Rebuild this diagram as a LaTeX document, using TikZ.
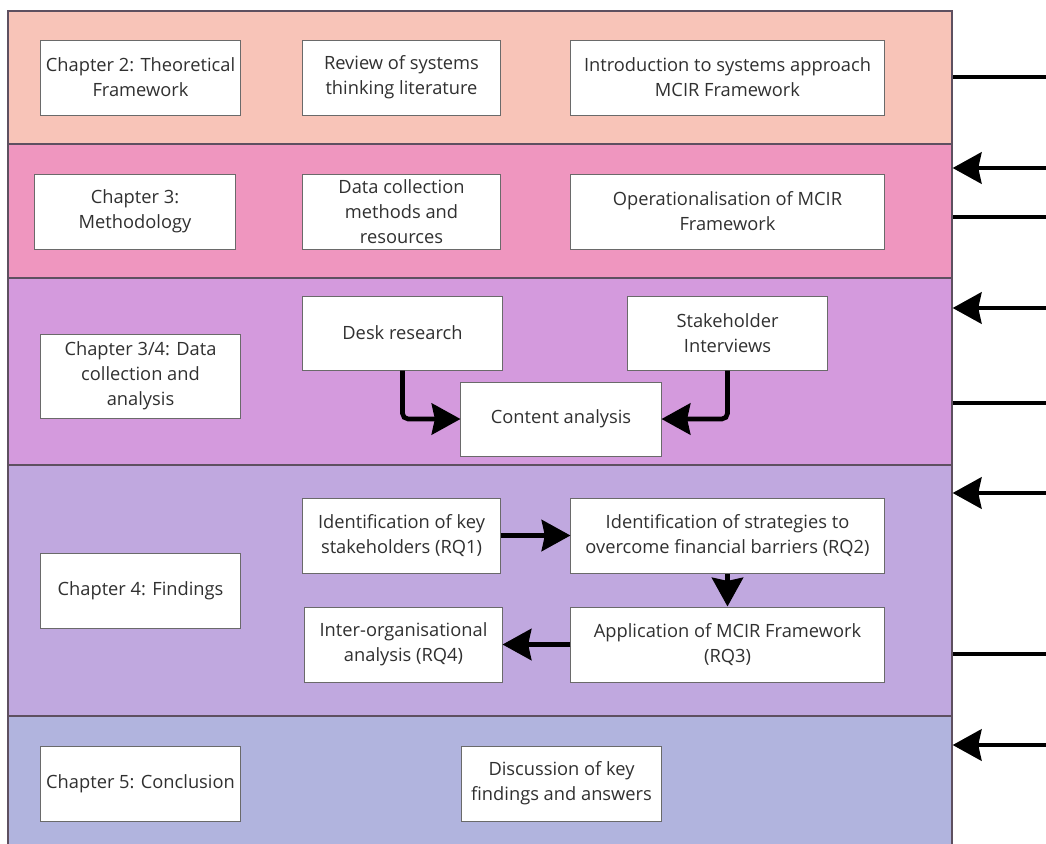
\documentclass[tikz,border=0pt]{standalone}
\usepackage{fontspec}
\setmainfont{Open Sans}
\usetikzlibrary{arrows.meta,fit}
\definecolor{bandA}{HTML}{F8C4B8}
\definecolor{bandB}{HTML}{EF96BF}
\definecolor{bandC}{HTML}{D49ADD}
\definecolor{bandD}{HTML}{C0A8DF}
\definecolor{bandE}{HTML}{B1B4DE}
\definecolor{txt}{HTML}{303030}
\definecolor{edge}{HTML}{6A6A6A}
\definecolor{bandedge}{HTML}{5E5060}
\tikzset{
  band/.style={draw=bandedge, line width=0.9pt, inner sep=0pt, fill=#1},
  box/.style={draw=edge, fill=white, line width=0.7pt, text=txt, align=center,
    font=\fontsize{13}{17.8}\selectfont, inner sep=0pt,
    minimum width=4.975cm, minimum height=1.875cm},
  wide/.style={minimum width=7.825cm},
  conn/.style={line width=3.3pt, black, -{Stealth[length=0.72cm,width=0.78cm,inset=0.08cm]}},
  plain/.style={line width=3.3pt, black},
}
\begin{document}
\begin{tikzpicture}[x=0.025cm,y=-0.025cm]
\useasboundingbox (0,0) rectangle (1046,843);
\clip (0,0) rectangle (1046,843);
\fill[white] (0,0) rectangle (1046,843);
% bands
\node[band=bandA, fit={(8,11)(952,144)}] (b1) {};
\node[band=bandB, fit={(8,144)(952,278)}] (b2) {};
\node[band=bandC, fit={(8,278)(952,465)}] (b3) {};
\node[band=bandD, fit={(8,465)(952,716)}] (b4) {};
\node[band=bandE, fit={(8,716)(952,860)}] (b5) {};
% band 1
\node[box] (c2) at (140.5,77.5) {Chapter 2: Theoretical\\Framework};
\node[box, minimum width=4.925cm] (rev) at (401.5,77.5) {Review of systems\\thinking literature};
\node[box, wide] (intro) at (727.5,77.5) {Introduction to systems approach\\MCIR Framework};
% band 2
\node[box, minimum width=5cm] (c3) at (135,211.5) {Chapter 3:\\Methodology};
\node[box, minimum width=4.925cm] (data) at (401.5,211.5) {Data collection\\methods and\\resources};
\node[box, wide] (oper) at (727.5,211.5) {Operationalisation of MCIR\\Framework};
% band 3
\node[box, minimum height=2.1cm] (c34) at (140.5,376) {Chapter 3/4: Data\\collection and\\analysis};
\node[box, minimum height=1.85cm] (desk) at (402.5,333) {Desk research};
\node[box, minimum height=1.85cm] (stake) at (727.5,333) {Stakeholder\\Interviews};
\node[box, minimum width=5cm, minimum height=1.85cm] (content) at (561,419) {Content analysis};
% band 4
\node[box] (c4) at (140.5,590.5) {Chapter 4: Findings};
\node[box, minimum width=4.925cm] (rq1) at (401.5,535.5) {Identification of key\\stakeholders (RQ1)};
\node[box, wide] (rq2) at (727.5,535.5) {Identification of strategies to\\overcome financial barriers (RQ2)};
\node[box, wide] (rq3) at (727.5,644.5) {Application of MCIR Framework\\(RQ3)};
\node[box, minimum width=4.925cm] (rq4) at (403.5,644.5) {Inter-organisational\\analysis (RQ4)};
% band 5
\node[box] (c5) at (140.5,783.5) {Chapter 5: Conclusion};
\node[box] (disc) at (561.5,783.5) {Discussion of key\\findings and answers};
% internal connectors
\draw[conn, rounded corners=4pt] (desk.south) |- (content.west);
\draw[conn, rounded corners=4pt] (stake.south) |- (content.east);
\draw[conn] (rq1) -- (rq2);
\draw[conn] (rq2) -- (rq3);
\draw[conn] (rq3) -- (rq4);
% right side lines
\coordinate (r1) at (1046,77);
\coordinate (r2) at (1046,168);
\coordinate (r3) at (1046,217);
\coordinate (r4) at (1046,308);
\coordinate (r5) at (1046,403);
\coordinate (r6) at (1046,493);
\coordinate (r7) at (1046,654);
\coordinate (r8) at (1046,745);
\draw[plain] (r1) -- (r1 -| b1.east);
\draw[conn] (r2) -- (r2 -| b2.east);
\draw[plain] (r3) -- (r3 -| b2.east);
\draw[conn] (r4) -- (r4 -| b3.east);
\draw[plain] (r5) -- (r5 -| b3.east);
\draw[conn] (r6) -- (r6 -| b4.east);
\draw[plain] (r7) -- (r7 -| b4.east);
\draw[conn] (r8) -- (r8 -| b5.east);
\end{tikzpicture}
\end{document}
